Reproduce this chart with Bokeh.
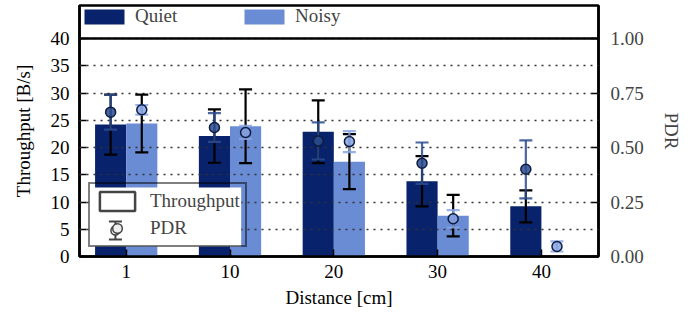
import numpy as np
from bokeh.plotting import figure
from bokeh.models import (ColumnDataSource, Range1d, LinearAxis, FixedTicker, Whisker, TeeHead,
                          Legend, LegendItem, Span, PrintfTickFormatter, BoxAnnotation)
from bokeh.embed import file_html
from bokeh.resources import INLINE

# ---------------- data ----------------
distances = ["1", "10", "20", "30", "40"]
thr_quiet = [24.2, 22.1, 22.9, 13.8, 9.2]
thr_quiet_err = [5.5, 4.9, 5.75, 4.6, 2.95]
thr_noisy = [24.4, 23.9, 17.4, 7.5, 0.0]
thr_noisy_err = [5.3, 6.75, 5.05, 3.8, 0.0]
pdr_quiet = [0.662, 0.592, 0.530, 0.428, 0.400]
pdr_quiet_err = [0.080, 0.066, 0.085, 0.095, 0.133]
pdr_noisy = [0.673, 0.569, 0.527, 0.173, 0.046]
pdr_noisy_err = [0.022, 0.030, 0.048, 0.040, 0.023]
y_ticks = [0, 5, 10, 15, 20, 25, 30, 35, 40]
pdr_ticks = [0.0, 0.25, 0.5, 0.75, 1.0]

FONT = "Liberation Serif"
FS = "19px"
C_QUIET = "#08236b"
C_NOISY = "#6a8cd4"
C_QUIET_PDR = "#2b4c8f"
C_NOISY_PDR = "#86a3e3"
C_LEG = "#444444"

idx = np.arange(len(distances))
bw = 0.3
x_q = idx - bw / 2
x_n = idx + bw / 2

FRAME_W, FRAME_H = 520, 251
X0, X1 = -0.45, 4.55
Y_TOP = 40 * FRAME_H / 218.0
px_x = (X1 - X0) / FRAME_W
px_y = Y_TOP / FRAME_H

p = figure(width=684, height=316, x_range=Range1d(X0, X1), y_range=Range1d(0, Y_TOP),
           output_backend="svg", toolbar_location=None,
           min_border_left=79, min_border_right=85, min_border_top=5, min_border_bottom=60)
p.extra_y_ranges = {"pdr": Range1d(0, Y_TOP / 40.0)}

p.outline_line_color = "black"
p.outline_line_width = 2.5
p.xgrid.grid_line_color = None
p.ygrid.ticker = FixedTicker(ticks=y_ticks)
p.ygrid.grid_line_color = "#333333"
p.ygrid.grid_line_width = 1.5
p.ygrid.grid_line_dash = "2 5"
p.ygrid.level = "guide"

# bars
src_q = ColumnDataSource(dict(x=x_q, top=thr_quiet))
src_n = ColumnDataSource(dict(x=x_n, top=thr_noisy))
r_q = p.vbar(x="x", top="top", width=bw, source=src_q, fill_color=C_QUIET, line_color=None)
r_n = p.vbar(x="x", top="top", width=bw, source=src_n, fill_color=C_NOISY, line_color=None)

# throughput error bars (black), drawn above the bars
for xs, vals, errs in ((x_q, thr_quiet, thr_quiet_err), (x_n, thr_noisy, thr_noisy_err)):
    v = np.array(vals); e = np.array(errs); m = e > 0
    s = ColumnDataSource(dict(x=xs[m], lo=(v - e)[m], hi=(v + e)[m]))
    p.add_layout(Whisker(base="x", lower="lo", upper="hi", source=s, dimension="height",
                         line_color="black", line_width=2.2, level="annotation",
                         upper_head=TeeHead(size=13, line_color="black", line_width=2.2),
                         lower_head=TeeHead(size=13, line_color="black", line_width=2.2)))

# PDR error bars
pdr_sources = []
for xs, vals, errs, col in ((x_q, pdr_quiet, pdr_quiet_err, C_QUIET_PDR),
                            (x_n, pdr_noisy, pdr_noisy_err, C_NOISY_PDR)):
    v = np.array(vals); e = np.array(errs)
    s = ColumnDataSource(dict(x=xs, y=v, lo=v - e, hi=v + e))
    pdr_sources.append((s, col))
    p.add_layout(Whisker(base="x", lower="lo", upper="hi", source=s, dimension="height",
                         y_range_name="pdr", line_color=col, line_width=2.2, line_alpha=0.85,
                         level="annotation",
                         upper_head=TeeHead(size=13, line_color=col, line_width=2.2, line_alpha=0.85),
                         lower_head=TeeHead(size=13, line_color=col, line_width=2.2, line_alpha=0.85)))

p.add_layout(Span(location=40, dimension="width", line_color="black", line_width=2.5))

# axes
for ax in (p.xaxis[0], p.yaxis[0]):
    ax.major_label_text_font = FONT
    ax.major_label_text_font_size = FS
    ax.axis_label_text_font = FONT
    ax.axis_label_text_font_size = FS
    ax.axis_label_text_font_style = "normal"
    ax.minor_tick_line_color = None
    ax.major_tick_in = 7
    ax.major_tick_out = 0
    ax.major_tick_line_color = "black"
    ax.major_tick_line_width = 1.5
    ax.axis_line_color = "black"
    ax.axis_line_width = 2.5
    ax.major_label_text_color = "black"
    ax.axis_label_text_color = "black"

p.xaxis.ticker = FixedTicker(ticks=list(idx))
p.xaxis.major_label_overrides = {int(i): d for i, d in zip(idx, distances)}
p.xaxis.axis_label = "Distance [cm]"
p.xaxis.major_label_standoff = 8
p.xaxis.axis_label_standoff = 6

p.yaxis.ticker = FixedTicker(ticks=y_ticks)
p.yaxis.axis_label = "Throughput [B/s]"
p.yaxis.major_label_standoff = 10
p.yaxis.axis_label_standoff = 14

ax_r = LinearAxis(y_range_name="pdr", ticker=FixedTicker(ticks=pdr_ticks),
                  formatter=PrintfTickFormatter(format="%.2f"), axis_label="PDR")
ax_r.major_label_text_font = FONT
ax_r.major_label_text_font_size = FS
ax_r.axis_label_text_font = FONT
ax_r.axis_label_text_font_size = FS
ax_r.axis_label_text_font_style = "normal"
ax_r.minor_tick_line_color = None
ax_r.major_tick_in = 7
ax_r.major_tick_out = 0
ax_r.major_tick_line_width = 1.5
ax_r.axis_line_width = 2.5
ax_r.major_label_standoff = 12
ax_r.axis_label_standoff = 14
p.add_layout(ax_r, "right")

# top legend (series)
leg_top = Legend(items=[LegendItem(label="Quiet", renderers=[r_q]),
                        LegendItem(label="Noisy", renderers=[r_n])],
                 location="top_left", orientation="horizontal", margin=0, padding=5,
                 spacing=10, glyph_width=50, glyph_height=19, label_width=94, label_height=19,
                 label_standoff=6, label_text_font=FONT, label_text_font_size=FS,
                 border_line_color=None, background_fill_alpha=0)
p.add_layout(leg_top)

# bottom legend (measure type)
LEG_MARGIN, LEG_PAD, LEG_GW, LEG_GH, LEG_SP = 9, 5, 44, 24, 3
LEG_W = 154
LEG_H = 2 * LEG_PAD + 2 * LEG_GH + LEG_SP

# white background of the bottom legend (the legend itself is transparent so the icon shows)
p.add_layout(BoxAnnotation(left=X0 + (LEG_MARGIN + 1) * px_x, right=X0 + (LEG_MARGIN + LEG_W - 1) * px_x,
                           bottom=(LEG_MARGIN + 1) * px_y, top=(LEG_MARGIN + LEG_H - 1) * px_y,
                           fill_color="white", fill_alpha=1, line_color=None, level="annotation"))

# error-bar part of the "PDR" legend icon, placed from the legend's layout constants
icon_cx = X0 + (LEG_MARGIN + LEG_PAD + LEG_GW / 2) * px_x
icon_cy = (LEG_MARGIN + LEG_PAD + LEG_GH / 2) * px_y
icon_src = ColumnDataSource(dict(b=[icon_cx], y=[icon_cy], lo=[icon_cy - 9 * px_y], hi=[icon_cy + 9 * px_y]))
p.add_layout(Whisker(base="b", lower="lo", upper="hi", source=icon_src, dimension="height",
                     line_color=C_LEG, line_width=2, level="annotation",
                     upper_head=TeeHead(size=13, line_color=C_LEG, line_width=2),
                     lower_head=TeeHead(size=13, line_color=C_LEG, line_width=2)))

dummy = ColumnDataSource(dict(x=[np.nan], y=[np.nan], top=[np.nan]))
r_thr = p.vbar(x="x", top="top", width=0.3, source=dummy, fill_color="white",
               line_color=C_LEG, line_width=2.5)
r_pdr_dot = p.scatter(x="x", y="y", source=dummy, marker="circle", size=9,
                      fill_color="#eeeeee", line_color=C_LEG, line_width=1.5)
leg_bot = Legend(items=[LegendItem(label="Throughput", renderers=[r_thr]),
                        LegendItem(label="PDR", renderers=[r_pdr_dot])],
                 location="bottom_left", orientation="vertical", margin=LEG_MARGIN, padding=LEG_PAD,
                 spacing=LEG_SP, glyph_width=LEG_GW, glyph_height=LEG_GH, label_height=LEG_GH,
                 label_standoff=11, label_text_font=FONT, label_text_font_size=FS,
                 border_line_color="black", border_line_width=2, background_fill_alpha=0)
p.add_layout(leg_bot)

# PDR markers on top of all error bars
for s, col in pdr_sources:
    p.scatter(x="x", y="y", source=s, y_range_name="pdr", marker="circle", size=10,
              fill_color=col, fill_alpha=0.85, line_color="#0d1b3e", line_width=1.5,
              level="overlay")
p.scatter(x="b", y="y", source=icon_src, marker="circle", size=9, fill_color="#eeeeee",
          line_color=C_LEG, line_width=1.5, level="overlay")

open("out.html", "w").write(file_html(p, INLINE))
